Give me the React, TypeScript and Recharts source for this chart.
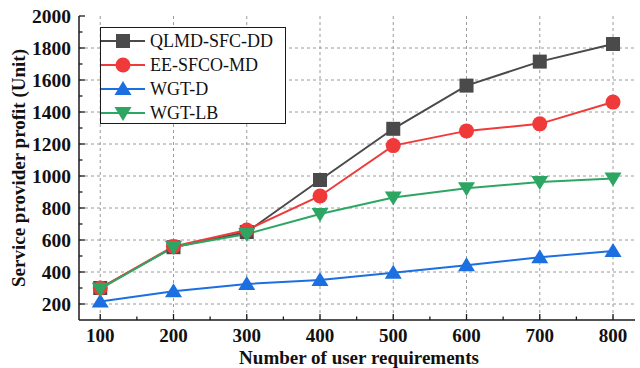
import { CartesianGrid, Line, LineChart, XAxis, YAxis } from 'recharts'

const requirements = [100, 200, 300, 400, 500, 600, 700, 800]
const qlmdSfcDd = [300, 555, 650, 975, 1295, 1565, 1715, 1825]
const eeSfcoMd = [300, 560, 662, 875, 1190, 1282, 1326, 1462]
const wgtD = [215, 280, 325, 350, 396, 442, 492, 532]
const wgtLb = [295, 556, 638, 762, 866, 924, 962, 985]

const xMajor = [100, 200, 300, 400, 500, 600, 700, 800]
const xTicks = [100, 150, 200, 250, 300, 350, 400, 450, 500, 550, 600, 650, 700, 750, 800]
const yMajor = [200, 400, 600, 800, 1000, 1200, 1400, 1600, 1800, 2000]
const yTicks = [200, 300, 400, 500, 600, 700, 800, 900, 1000, 1100, 1200, 1300, 1400, 1500, 1600, 1700, 1800, 1900, 2000]

const series = [
  { key: 'qlmd', name: 'QLMD-SFC-DD', color: '#4a4a4a', shape: 'square' },
  { key: 'ee', name: 'EE-SFCO-MD', color: '#f03a3a', shape: 'circle' },
  { key: 'wgtd', name: 'WGT-D', color: '#1c6fe0', shape: 'up' },
  { key: 'wgtlb', name: 'WGT-LB', color: '#2ea663', shape: 'down' },
]

const data = requirements.map((r, i) => ({
  req: r,
  qlmd: qlmdSfcDd[i],
  ee: eeSfcoMd[i],
  wgtd: wgtD[i],
  wgtlb: wgtLb[i],
}))

const font = '"Liberation Serif", "Times New Roman", serif'
const axisColor = '#1a1a1a'

function Marker({ cx, cy, shape, color }: { cx: number; cy: number; shape: string; color: string }) {
  if (shape === 'square') return <rect x={cx - 7} y={cy - 7} width={14} height={14} fill={color} />
  if (shape === 'circle') return <circle cx={cx} cy={cy} r={7.5} fill={color} />
  if (shape === 'up')
    return <polygon points={`${cx},${cy - 8} ${cx - 8.5},${cy + 6} ${cx + 8.5},${cy + 6}`} fill={color} />
  return <polygon points={`${cx},${cy + 8} ${cx - 8.5},${cy - 6} ${cx + 8.5},${cy - 6}`} fill={color} />
}

const BottomTick = (props: any) => {
  const { x, y, payload } = props
  const major = payload.value % 100 === 0
  return (
    <g>
      <line x1={x} x2={x} y1={y} y2={y - (major ? 6 : 3.5)} stroke={axisColor} strokeWidth={1.3} />
      {major && (
        <text x={x} y={y + 22} textAnchor="middle" fontFamily={font} fontWeight="bold" fontSize={19} fill="#111">
          {payload.value}
        </text>
      )}
    </g>
  )
}

const TopTick = (props: any) => {
  const { x, y, payload } = props
  const major = payload.value % 100 === 0
  return <line x1={x} x2={x} y1={y} y2={y + (major ? 6 : 3.5)} stroke={axisColor} strokeWidth={1.3} />
}

const LeftTick = (props: any) => {
  const { x, y, payload } = props
  const major = payload.value % 200 === 0
  return (
    <g>
      <line x1={x} x2={x + (major ? 6 : 3.5)} y1={y} y2={y} stroke={axisColor} strokeWidth={1.3} />
      {major && (
        <text x={x - 8} y={y} dy="0.34em" textAnchor="end" fontFamily={font} fontWeight="bold" fontSize={19.5} fill="#111">
          {payload.value}
        </text>
      )}
    </g>
  )
}

const RightTick = (props: any) => {
  const { x, y, payload } = props
  const major = payload.value % 200 === 0
  return <line x1={x} x2={x - (major ? 6 : 3.5)} y1={y} y2={y} stroke={axisColor} strokeWidth={1.3} />
}

const LegendBox = () => (
  <div
    style={{
      position: 'absolute',
      left: 100,
      top: 27,
      border: `1.5px solid ${axisColor}`,
      width: 184,
      height: 95,
      background: '#fff',
    }}
  >
    <svg width={184} height={95} style={{ display: 'block' }}>
      {series.map((s, i) => {
        const cy = 13 + i * 24
        return (
          <g key={s.key}>
            <line x1={0} x2={44} y1={cy} y2={cy} stroke={s.color} strokeWidth={2} />
            <Marker cx={22} cy={cy} shape={s.shape} color={s.color} />
            <text x={49} y={cy} dy="0.35em" fontFamily={font} fontSize={18} fill="#111">
              {s.name}
            </text>
          </g>
        )
      })}
    </svg>
  </div>
)

export default function App() {
  return (
    <div style={{ position: 'absolute', left: 0, top: 0, width: 640, height: 368, background: '#fff' }}>
      <LineChart width={640} height={368} data={data} margin={{ top: 16, right: 5, left: 0, bottom: 0 }}>
        <CartesianGrid
          stroke="#9a9a9a"
          strokeDasharray="3 3"
          verticalValues={xMajor}
          horizontalValues={yMajor.filter((v) => v < 2000)}
        />
        <XAxis
          dataKey="req"
          type="number"
          domain={[71, 830]}
          ticks={xTicks}
          interval={0}
          tick={BottomTick}
          tickSize={0}
          tickMargin={0}
          tickLine={false}
          axisLine={{ stroke: axisColor, strokeWidth: 1.5 }}
          height={48}
          allowDataOverflow
          label={(p: any) => (
            <text
              x={p.viewBox.x + p.viewBox.width / 2 + 2}
              y={p.viewBox.y + 44}
              textAnchor="middle"
              fontFamily={font}
              fontWeight="bold"
              fontSize={19}
              fill="#111"
            >
              Number of user requirements
            </text>
          )}
        />
        <XAxis
          xAxisId="top"
          orientation="top"
          dataKey="req"
          type="number"
          domain={[71, 830]}
          ticks={xTicks}
          interval={0}
          tick={TopTick}
          tickSize={0}
          tickMargin={0}
          tickLine={false}
          axisLine={{ stroke: axisColor, strokeWidth: 1.5 }}
          height={0}
          allowDataOverflow
        />
        <YAxis
          type="number"
          domain={[100, 2000]}
          ticks={yTicks}
          interval={0}
          tick={LeftTick}
          tickSize={0}
          tickMargin={0}
          tickLine={false}
          axisLine={{ stroke: axisColor, strokeWidth: 1.5 }}
          width={79}
          allowDataOverflow
          label={(p: any) => {
            const cx = p.viewBox.x + 18
            const cy = p.viewBox.y + p.viewBox.height / 2
            return (
              <text
                x={cx}
                y={cy}
                transform={`rotate(-90 ${cx} ${cy})`}
                textAnchor="middle"
                dominantBaseline="central"
                fontFamily={font}
                fontWeight="bold"
                fontSize={19}
                fill="#111"
              >
                Service provider profit (Unit)
              </text>
            )
          }}
        />
        <YAxis
          yAxisId="right"
          orientation="right"
          type="number"
          domain={[100, 2000]}
          ticks={yTicks}
          interval={0}
          tick={RightTick}
          tickSize={0}
          tickMargin={0}
          tickLine={false}
          axisLine={{ stroke: axisColor, strokeWidth: 1.5 }}
          width={0}
          allowDataOverflow
        />
        {series.map((s) => (
          <Line
            key={s.key}
            dataKey={s.key}
            name={s.name}
            stroke={s.color}
            strokeWidth={2}
            isAnimationActive={false}
            dot={(p: any) => <Marker key={`${s.key}-${p.index}`} cx={p.cx} cy={p.cy} shape={s.shape} color={s.color} />}
            activeDot={false}
          />
        ))}
      </LineChart>
      <LegendBox />
    </div>
  )
}
